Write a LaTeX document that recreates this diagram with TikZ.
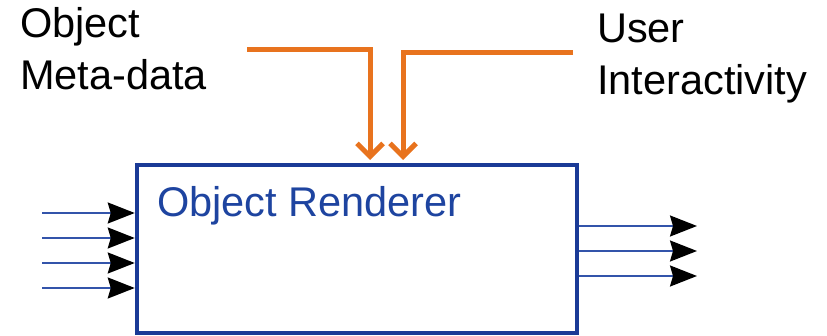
\documentclass[tikz,border=0pt]{standalone}
\usepackage{fontspec}
\setmainfont{Liberation Sans}
\usetikzlibrary{arrows.meta}

\definecolor{boxblue}{HTML}{1A3A96}
\definecolor{textblue}{HTML}{1E44A0}
\definecolor{wireblue}{HTML}{3354AA}
\definecolor{ctrlorange}{HTML}{E8731E}

\tikzset{
  label text/.style={anchor=base west, inner sep=0pt, font=\fontsize{41.5}{50}\selectfont},
  block/.style={draw=boxblue, line width=4.5pt, fill=white, rectangle, inner sep=0pt},
  dataflow/.style={draw=wireblue, line width=2pt,
    -{Stealth[inset=3pt, length=27pt, width=21pt, black]}},
  control/.style={draw=ctrlorange, line width=5pt,
    -{Straight Barb[length=13pt, width=26pt, line width=5pt]}},
}

\begin{document}
\begin{tikzpicture}[x=1pt, y=-1pt]
  \useasboundingbox (0,0) rectangle (827,336);

  % the processing block
  \node[block, minimum width=440pt, minimum height=168pt] (rend) at (357,249) {};
  \node[anchor=base west, inner sep=0pt, text=textblue,
        font=\fontsize{41.5}{48}\selectfont] (rtitle) at (157,217) {Object Renderer};

  % side labels
  \node[label text] (md1) at (20,38) {Object};
  \node[label text] (md2) at (20,90) {Meta-data};
  \node[label text] (ui1) at (597,43) {User};
  \node[label text] (ui2) at (597,95) {Interactivity};

  % inputs on the left
  \foreach \i/\y in {1/213, 2/238, 3/263, 4/288} {
    \coordinate (in\i) at (42,\y);
    \draw[dataflow] (in\i) -- (in\i -| rend.west);
  }

  % outputs on the right
  \foreach \i/\y in {1/226, 2/251, 3/276} {
    \coordinate (out\i) at (697,\y);
    \draw[dataflow] (out\i -| rend.east) -- (out\i);
  }

  % control inputs from above
  \coordinate (mdstart) at (247,50);
  \coordinate (mdend) at (370,160);
  \coordinate (uistart) at (573,53);
  \coordinate (uiend) at (403,160);
  \draw[control] (mdstart) -| (mdend);
  \draw[control] (uistart) -| (uiend);
\end{tikzpicture}
\end{document}
